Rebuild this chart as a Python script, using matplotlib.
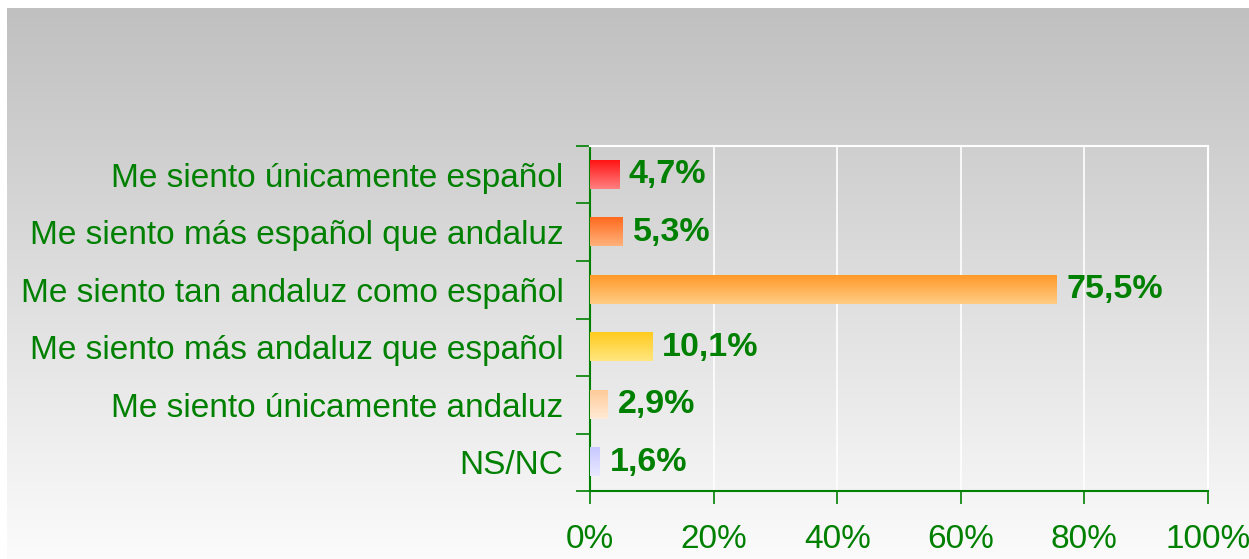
import numpy as np
import matplotlib
matplotlib.use("Agg")
import matplotlib.pyplot as plt
from matplotlib.colors import to_rgb

plt.rcParams['font.family'] = ['Liberation Sans', 'DejaVu Sans']

categories = [
    "Me siento únicamente español",
    "Me siento más español que andaluz",
    "Me siento tan andaluz como español",
    "Me siento más andaluz que español",
    "Me siento únicamente andaluz",
    "NS/NC",
]
values = [4.7, 5.3, 75.5, 10.1, 2.9, 1.6]
value_labels = ["4,7%", "5,3%", "75,5%", "10,1%", "2,9%", "1,6%"]
x_ticks = [0, 20, 40, 60, 80, 100]
x_tick_labels = ["0%", "20%", "40%", "60%", "80%", "100%"]

# top / bottom colours of each bar's vertical gradient
bar_top = ["#FF1414", "#FF6A1E", "#FF9A28", "#FFCB1E", "#FFCB99", "#C8C8FF"]
bar_bottom = ["#FF8080", "#FFB27C", "#FFCC85", "#FFE680", "#FFEBD6", "#E8E8FF"]

GREEN = "#008000"
W, H = 1249, 559

fig = plt.figure(figsize=(W / 100, H / 100), dpi=100, facecolor="white")

# gray-to-white gradient panel behind the chart
bg = fig.add_axes([7 / W, 0, 1 - 7 / W, 1 - 8 / H], zorder=-10)
ramp = np.linspace(0.753, 0.985, 256)
bg.imshow(np.dstack([ramp, ramp, ramp]).reshape(256, 1, 3),
          aspect="auto", extent=(0, 1, 0, 1), origin="upper")
bg.set_axis_off()

ax = fig.add_axes([590 / W, 1 - 491 / H, (1208 - 590) / W, (491 - 146) / H])
ax.patch.set_alpha(0)

n = len(categories)
ypos = np.arange(n)[::-1]  # first category on top
bars = ax.barh(ypos, values, height=0.49, color="none", edgecolor="none", zorder=3)

for patch, c0, c1 in zip(bars.patches, bar_top, bar_bottom):
    x0, y0 = patch.get_x(), patch.get_y()
    w, h = patch.get_width(), patch.get_height()
    t = np.linspace(0, 1, 64)[:, None]
    grad = (1 - t) * np.array(to_rgb(c0)) + t * np.array(to_rgb(c1))
    ax.imshow(grad[:, None, :], extent=(x0, x0 + w, y0, y0 + h), origin="upper",
              aspect="auto", zorder=3, interpolation="bilinear")

for y, v, lab in zip(ypos, values, value_labels):
    ax.annotate(lab, (v, y), xytext=(7, 0), textcoords="offset points",
                va="center", ha="left", fontsize=24.5, fontweight="bold",
                color=GREEN, zorder=4)

ax.set_xlim(0, 100)
ax.set_ylim(-0.5, n - 0.5)

# white vertical gridlines and frame on top/right
ax.set_xticks(x_ticks)
ax.set_xticklabels(x_tick_labels)
ax.grid(axis="x", color="white", linewidth=1.2, zorder=1)
ax.set_axisbelow(True)
for side in ("top", "right"):
    ax.spines[side].set_color("white")
    ax.spines[side].set_linewidth(1.5)
for side in ("left", "bottom"):
    ax.spines[side].set_color(GREEN)
    ax.spines[side].set_linewidth(1.5)

ax.set_yticks(np.arange(n + 1) - 0.5)
ax.set_yticklabels([])
ax.set_yticks(ypos, minor=True)
ax.set_yticklabels(categories, minor=True)
ax.tick_params(axis="y", which="major", length=10, width=1.2, color=GREEN, direction="out")
ax.tick_params(axis="y", which="minor", length=0, pad=19, labelsize=24, labelcolor=GREEN)
ax.tick_params(axis="x", which="major", length=9, width=1.2, color=GREEN, direction="out",
               pad=15, labelsize=24, labelcolor=GREEN)

fig.savefig("out.png", dpi=100, facecolor="white")
